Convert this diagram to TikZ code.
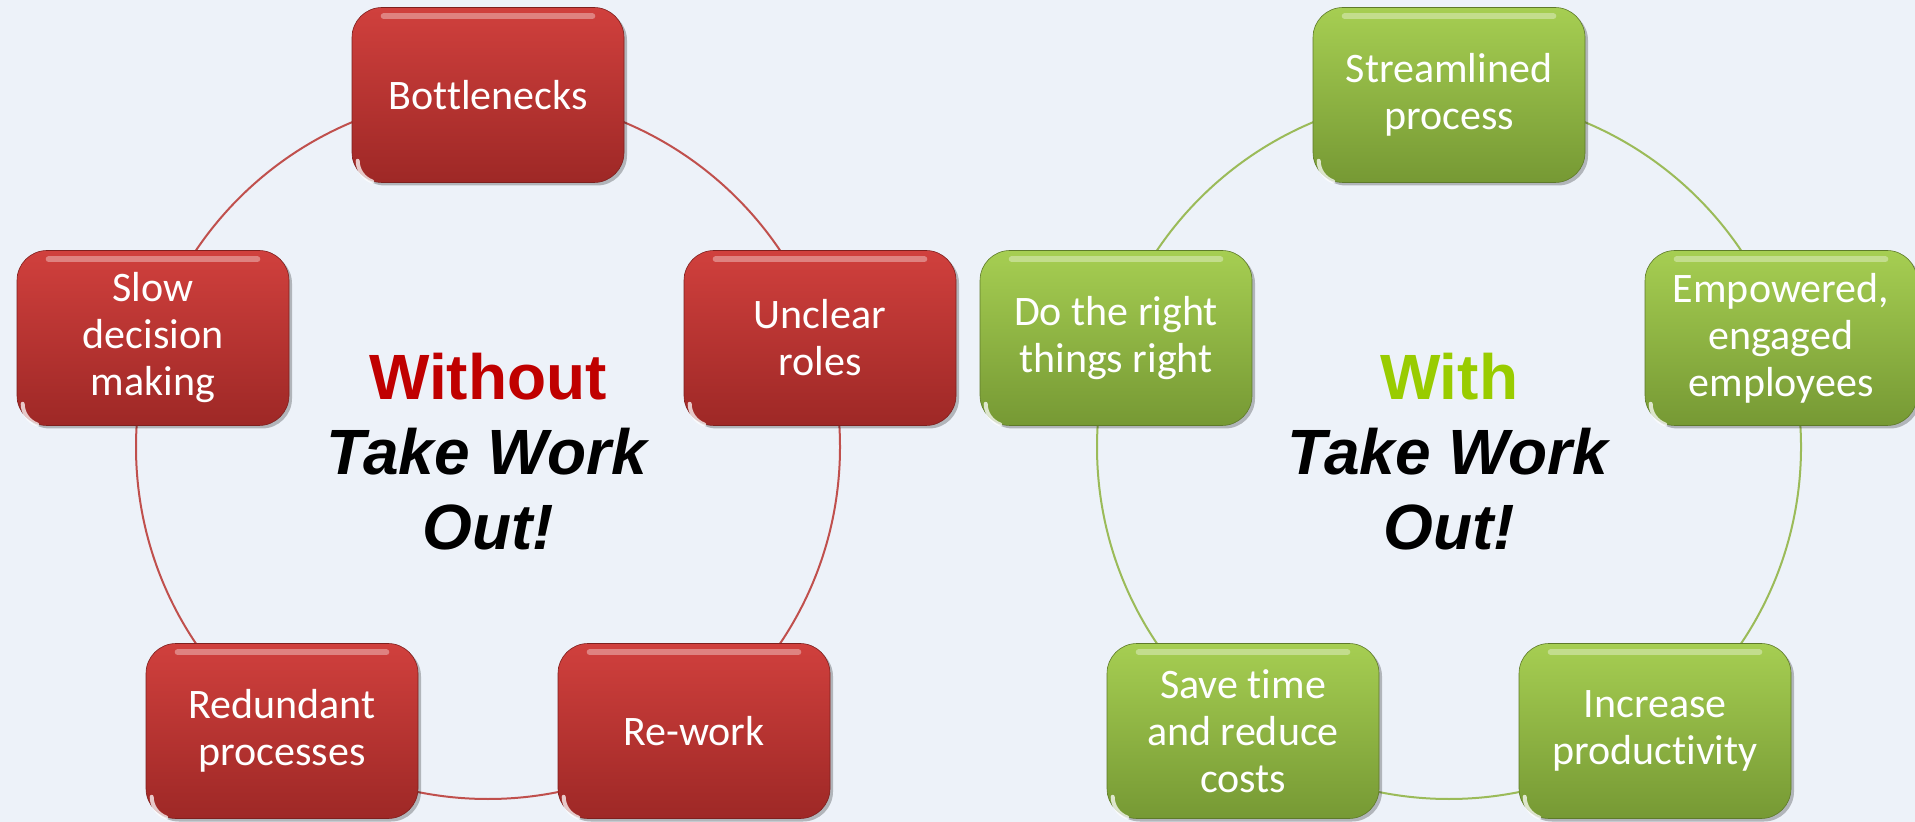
\documentclass[tikz,border=0pt]{standalone}
\usepackage{fontspec}
\setmainfont{Carlito}[Ligatures=NoCommon]
\newfontfamily\arialf{Liberation Sans}
\usetikzlibrary{shadows}
\definecolor{bgc}{RGB}{237,242,249}
\definecolor{redtop}{RGB}{208,64,61}
\definecolor{redbot}{RGB}{158,40,38}
\definecolor{grntop}{RGB}{166,206,82}
\definecolor{grnbot}{RGB}{118,153,52}
\definecolor{redline}{RGB}{192,80,77}
\definecolor{grnline}{RGB}{155,187,89}
\definecolor{woRed}{RGB}{192,0,0}
\definecolor{wGreen}{RGB}{153,204,0}
\begin{document}
\begin{tikzpicture}[x=0.5pt,y=-0.5pt,
  box/.style={rectangle, rounded corners=15pt, minimum width=136pt, minimum height=87.5pt,
    inner sep=0pt, align=center, text=white, font=\fontsize{21}{23.5}\selectfont,
    drop shadow={shadow xshift=1.5pt, shadow yshift=-1.5pt, opacity=0.25, fill=black}},
  redbox/.style={box, top color=redtop, bottom color=redbot, draw=redbot!80!black, line width=0.3pt},
  grnbox/.style={box, top color=grntop, bottom color=grnbot, draw=grnbot!80!black, line width=0.3pt},
  ring/.style={circle, minimum size=352pt, inner sep=0pt, line width=1pt},
  centertext/.style={align=center, font=\arialf\bfseries\fontsize{32}{37.5}\selectfont},
  gloss/.style={white, opacity=0.35, line width=3pt, line cap=round},
  glare/.style={white, opacity=0.75, line width=2pt, line cap=round}
]
\useasboundingbox (0,0) rectangle (1915,822);
\fill[bgc] (0,0) rectangle (1915,822);

% rings
\node[ring, draw=redline] (ringL) at (488,447) {};
\node[ring, draw=grnline] (ringR) at (1449,447) {};

% left boxes
\node[redbox] (bott) at (488,95) {Bottlenecks};
\node[redbox] (uncl) at (820,338) {Unclear\\roles};
\node[redbox] (rewk) at (694,731) {Re-work};
\node[redbox] (redu) at (282,731) {Redundant\\processes};
\node[redbox] (slow) at (153,338) {Slow\\decision\\making};

% right boxes
\node[grnbox] (strm) at (1449,95) {Streamlined\\process};
\node[grnbox] (empw) at (1781,338) {Empowered,\\engaged\\employees};
\node[grnbox] (incr) at (1655,731) {Increase\\productivity};
\node[grnbox] (save) at (1243,731) {Save time\\and reduce\\costs};
\node[grnbox] (dort) at (1116,338) {Do the right\\things right};

% gloss highlights
\foreach \n in {bott,uncl,rewk,redu,slow,strm,empw,incr,save,dort}{
  \draw[gloss] ([xshift=16pt,yshift=-4.5pt]\n.north west) -- ([xshift=-16pt,yshift=-4.5pt]\n.north east);
  \draw[glare] ([xshift=3pt,yshift=11pt]\n.south west) arc[start angle=180, end angle=250, radius=11pt];
}

% centre texts
\node[centertext] (txtL) at (488,452) {{\color{woRed}Without}\\\textit{Take Work}\\\textit{Out!}};
\node[centertext] (txtR) at (1449,452) {{\color{wGreen}With}\\\textit{Take Work}\\\textit{Out!}};
\end{tikzpicture}
\end{document}
